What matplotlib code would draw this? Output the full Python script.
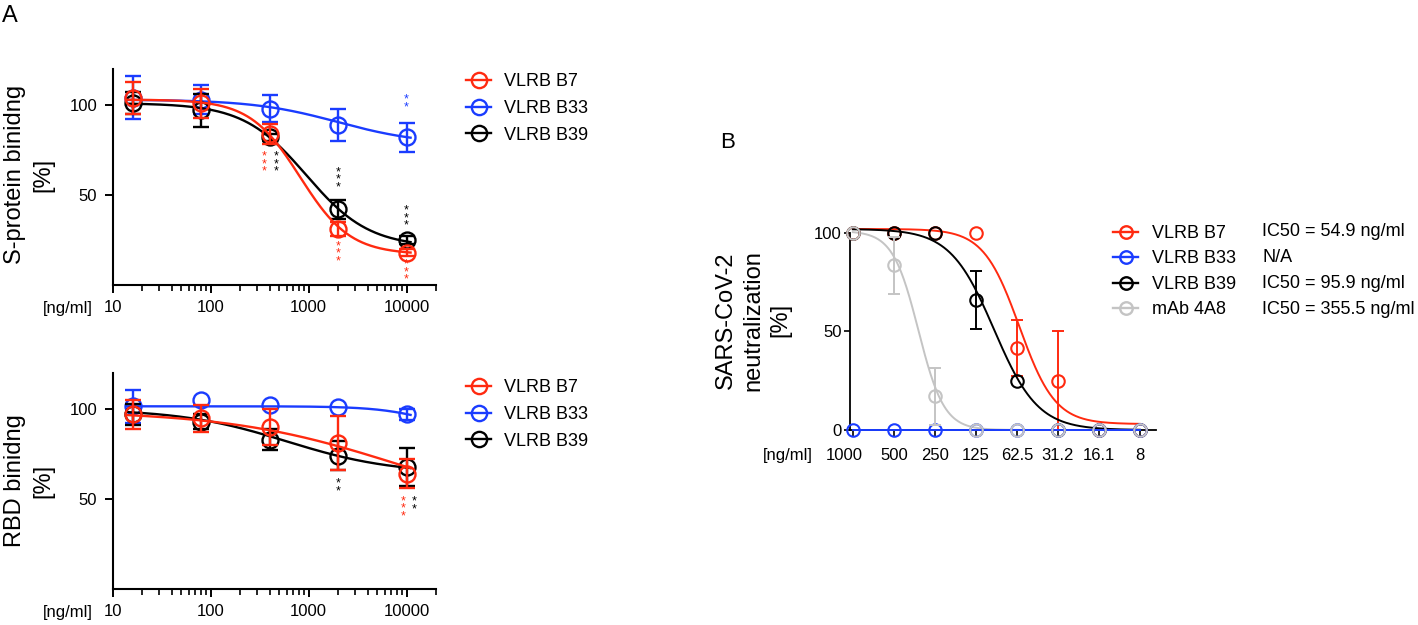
import matplotlib

matplotlib.use("Agg")
import matplotlib.pyplot as plt
import matplotlib.transforms as mtransforms
import numpy as np
from matplotlib.lines import Line2D
from matplotlib.ticker import LogLocator, NullFormatter, NullLocator

plt.rcParams["font.family"] = ["Liberation Sans", "DejaVu Sans"]

RED = "#FF2A10"
BLUE = "#1A3CFF"
BLACK = "#000000"
GRAY = "#C4C4C4"

# ---- panel A: binding vs concentration (ng/ml) ----
conc_a = [16, 80, 400, 2000, 10000]
xticks_a = [10, 100, 1000, 10000]
names_a = ["VLRB B7", "VLRB B33", "VLRB B39"]
colors_a = [RED, BLUE, BLACK]

s_b7 = [104, 101, 84, 31, 18]
s_b7_err = [9, 8, 5.5, 4, 2]
s_b33 = [104, 103, 98, 89, 82]
s_b33_err = [12, 8, 7.5, 9, 8]
s_b39 = [101, 97, 82, 42, 25]
s_b39_err = [6, 9, 2, 5.5, 2]
# 4PL fit: top, bottom, EC50, hill
s_fit_b7 = [103, 17, 820, 1.7]
s_fit_b33 = [103, 78, 2000, 1.0]
s_fit_b39 = [101, 21, 950, 1.35]

r_b7 = [97, 95, 90, 81, 64]
r_b7_err = [8, 7.5, 10, 15, 8]
r_b33 = [101.5, 105, 102, 101, 97]
r_b33_err = [9, 0, 0, 0, 3]
r_b39 = [97, 93, 83, 74, 68]
r_b39_err = [6, 4, 6, 8, 10.5]
r_fit_b7 = [99, 40, 8000, 0.5]
r_fit_b33 = [101.5, 85, 20000, 1.5]
r_fit_b39 = [100, 64, 600, 0.8]

# significance stars: x, y, count, colour
s_star_x = [349, 463, 2000, 2000, 10000, 10000, 10000]
s_star_y = [67, 67, 58.5, 17.5, 37, 7, 101]
s_star_n = [3, 3, 3, 3, 3, 3, 2]
s_star_c = [RED, BLACK, BLACK, RED, BLACK, RED, BLUE]
r_star_x = [2000, 9150, 12100]
r_star_y = [56.5, 44.5, 46.5]
r_star_n = [2, 3, 2]
r_star_c = [BLACK, RED, BLACK]

# ---- panel B: neutralization ----
conc_b = [1000, 500, 250, 125, 62.5, 31.25, 15.625, 7.8125]
xticklabels_b = ["1000", "500", "250", "125", "62.5", "31.2", "16.1", "8"]
names_b = ["VLRB B7", "VLRB B33", "VLRB B39", "mAb 4A8"]
ic50_text = ["IC50 = 54.9 ng/ml", "N/A", "IC50 = 95.9 ng/ml", "IC50 = 355.5 ng/ml"]
colors_b = [RED, BLUE, BLACK, GRAY]
n_b7 = [100, 100, 100, 100, 41.5, 25, 0, 0]
n_b7_err = [0, 0, 0, 0, 14.3, 25, 0, 0]
n_b33 = [0, 0, 0, 0, 0, 0, 0, 0]
n_b33_err = [0, 0, 0, 0, 0, 0, 0, 0]
n_b39 = [100, 100, 100, 66, 25, 0, 0, 0]
n_b39_err = [0, 0, 0, 14.5, 0, 0, 0, 0]
n_4a8 = [100, 83.5, 17, 0, 0, 0, 0, 0]
n_4a8_err = [0, 14.5, 14.5, 0, 0, 0, 0, 0]
# fit: top, bottom, IC50, hill
n_fit_b7 = [102, 3, 60, 3.3]
n_fit_b33 = [0, 0, 1, 1]
n_fit_b39 = [102, 0, 92, 2.7]
n_fit_4a8 = [101, 0, 330, 4.6]


def pl4_down(x, top, bottom, ec50, hill):
    return bottom + (top - bottom) / (1 + (x / ec50) ** hill)


def pl4_up(x, top, bottom, ic50, hill):
    return bottom + (top - bottom) / (1 + (ic50 / x) ** hill)


W, H = 1418, 625
fig = plt.figure(figsize=(W / 100, H / 100), dpi=100)


def px_axes(left, top, right, bottom):
    return fig.add_axes([left / W, 1 - bottom / H, (right - left) / W, (bottom - top) / H])


def style_axes(ax, lw=1.5):
    for side in ("top", "right"):
        ax.spines[side].set_visible(False)
    for side in ("left", "bottom"):
        ax.spines[side].set_linewidth(lw)


def binding_panel(ax, series, fits, ylabel, stars, label_y):
    style_axes(ax)
    xs = np.logspace(np.log10(14), np.log10(11000), 300)
    order = [1, 2, 0]  # blue under black under red
    for z, i in enumerate(order):
        y, err = series[i]
        color = colors_a[i]
        y = np.array(y, float)
        err = np.array(err, float)
        ax.plot(xs, pl4_down(xs, *fits[i]), color=color, lw=1.7, zorder=3 + z)
        m = err > 0
        ax.errorbar(np.array(conc_a)[m], y[m], yerr=err[m], fmt="none", ecolor=color,
                    elinewidth=1.7, capsize=6, capthick=1.7, zorder=3 + z)
        ax.plot(conc_a, y, "o", ms=11.5, mfc="none", mec=color, mew=1.7, zorder=3 + z)
    for x, yv, n, c in zip(*stars):
        ax.text(x, yv, "\n".join(["*"] * n), color=c, fontsize=9, ha="center",
                va="center", linespacing=0.5)
    ax.set_xscale("log")
    ax.set_xlim(10, 20000)
    ax.set_ylim(0, 120)
    ax.set_xticks(xticks_a, labels=[str(t) for t in xticks_a])
    ax.xaxis.set_minor_locator(LogLocator(base=10, subs=np.arange(2, 10)))
    ax.xaxis.set_minor_formatter(NullFormatter())
    ax.set_yticks([50, 100])
    ax.tick_params(axis="both", which="major", direction="out", length=6, width=1.4,
                   labelsize=12, pad=5)
    ax.tick_params(axis="x", which="minor", direction="out", length=4, width=1.2)
    ax.set_ylabel(ylabel, fontsize=17, linespacing=1.38, va="center")
    ax.yaxis.set_label_coords((29.5 - 112.6) / 323.4, label_y)
    ax.annotate("[ng/ml]", xy=(0, 0), xycoords="axes fraction", xytext=(-14.5, -17),
                textcoords="offset points", ha="right", va="center", fontsize=12)


def legend_handles(colors, ms):
    return [Line2D([], [], color=c, lw=1.7, marker="o", ms=ms, mfc="none", mec=c, mew=1.7)
            for c in colors]


# panel A top
ax1 = px_axes(112.6, 69, 436, 285)
binding_panel(ax1, [(s_b7, s_b7_err), (s_b33, s_b33_err), (s_b39, s_b39_err)],
              [s_fit_b7, s_fit_b33, s_fit_b39], "S-protein binidng\n[%]",
              (s_star_x, s_star_y, s_star_n, s_star_c), 0.51)
fig.legend(legend_handles(colors_a, 11), names_a, loc="upper left",
           bbox_to_anchor=(466 / W, 1 - 73.5 / H), frameon=False, fontsize=13,
           borderpad=0, borderaxespad=0, handlelength=1.4, handletextpad=0.7,
           labelspacing=0.53)

# panel A bottom
ax2 = px_axes(112.6, 373, 436, 589)
binding_panel(ax2, [(r_b7, r_b7_err), (r_b33, r_b33_err), (r_b39, r_b39_err)],
              [r_fit_b7, r_fit_b33, r_fit_b39], "RBD binidng\n[%]",
              (r_star_x, r_star_y, r_star_n, r_star_c), 0.5)
fig.legend(legend_handles(colors_a, 11), names_a, loc="upper left",
           bbox_to_anchor=(466 / W, 1 - 379.5 / H), frameon=False, fontsize=13,
           borderpad=0, borderaxespad=0, handlelength=1.4, handletextpad=0.7,
           labelspacing=0.53)

# panel B
ax3 = px_axes(850, 227, 1155.6, 430)
style_axes(ax3, lw=1.3)
ax3.spines["left"].set_bounds(0, 100)
xb = np.logspace(np.log10(1000), np.log10(7.8125), 300)
series_b = [(n_b7, n_b7_err, n_fit_b7, 3, 3), (n_b33, n_b33_err, n_fit_b33, 5, 5),
            (n_b39, n_b39_err, n_fit_b39, 4, 4), (n_4a8, n_4a8_err, n_fit_4a8, 2.8, 6)]
for (y, err, fit, zl, zm), color in zip(series_b, colors_b):
    y = np.array(y, float)
    err = np.array(err, float)
    ax3.plot(xb, pl4_up(xb, *fit), color=color, lw=1.4, zorder=zl, clip_on=False)
    m = err > 0
    if m.any():
        ax3.errorbar(np.array(conc_b)[m], y[m], yerr=err[m], fmt="none", ecolor=color,
                     elinewidth=1.4, capsize=4.5, capthick=1.4, zorder=zm, clip_on=False)
    ax3.plot(conc_b, y, "o", ms=9, mfc="none", mec=color, mew=1.5, zorder=zm,
             clip_on=False)
ax3.set_xscale("log")
ax3.set_xlim(1049, 6.0)
ax3.set_ylim(0, 103)
ax3.set_xticks(conc_b, labels=xticklabels_b)
ax3.xaxis.set_minor_locator(NullLocator())
ax3.set_yticks([0, 50, 100])
ax3.tick_params(axis="both", direction="out", length=4, width=1.2, labelsize=12)
ax3.tick_params(axis="x", pad=9)
ax3.tick_params(axis="y", pad=2)
ax3.set_ylabel("SARS-CoV-2\nneutralization\n[%]", fontsize=17, linespacing=1.3,
               va="center")
ax3.yaxis.set_label_coords((753 - 850) / 305.6, 0.54)
ax3.annotate("[ng/ml]", xy=(0, 0), xycoords="axes fraction", xytext=(-27, -18.5),
             textcoords="offset points", ha="right", va="center", fontsize=12)
# the first dilution label sits a little left of its tick in the original
first = ax3.xaxis.get_majorticklabels()[0]
first.set_transform(first.get_transform()
                    + mtransforms.ScaledTranslation(-0.09, 0, fig.dpi_scale_trans))
fig.legend(legend_handles(colors_b, 9), names_b, loc="upper left",
           bbox_to_anchor=(1113 / W, 1 - 225 / H), frameon=False, fontsize=13,
           borderpad=0, borderaxespad=0, handlelength=1.4, handletextpad=0.75,
           labelspacing=0.47)
for i, txt in enumerate(ic50_text):
    fig.text(1262 / W, 1 - (232 + 25.7 * i) / H, txt, fontsize=13, ha="left", va="center")

fig.text(10 / W, 1 - 16 / H, "A", fontsize=17, ha="center", va="center")
fig.text(728 / W, 1 - 142 / H, "B", fontsize=16, ha="center", va="center")

fig.savefig("out.png", dpi=100)
